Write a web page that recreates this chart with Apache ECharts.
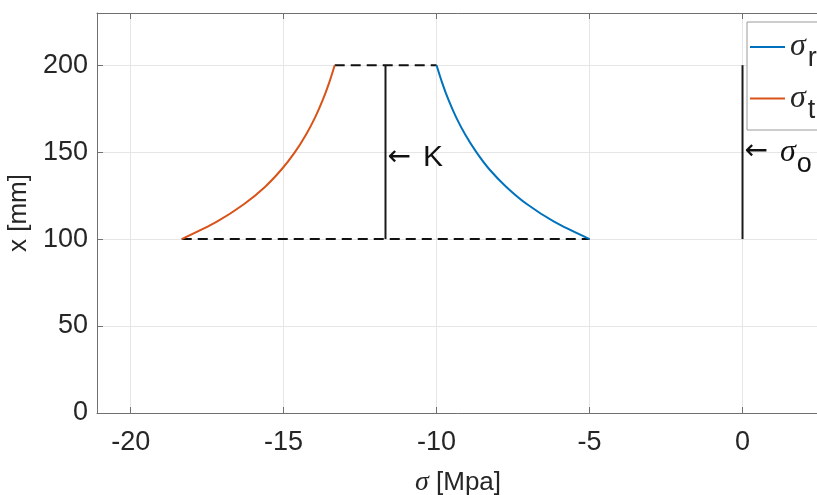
<!DOCTYPE html>
<html>
<head>
<meta charset="utf-8">
<script src="https://cdn.jsdelivr.net/npm/echarts@6/dist/echarts.min.js"></script>
<style>
  html, body { margin: 0; padding: 0; background: #fff; }
  #chart { width: 817px; height: 495px; }
</style>
</head>
<body>
<div id="chart"></div>
<script>
  // radius positions (mm) and stresses (MPa)
  const radius = [100, 110, 120, 130, 140, 150, 160, 170, 180, 190, 200];
  const sigmaR = [-5.0, -6.16, -7.04, -7.72, -8.27, -8.7, -9.06, -9.36, -9.61, -9.82, -10.0];
  const sigmaT = [-18.33, -17.18, -16.3, -15.61, -15.07, -14.63, -14.27, -13.97, -13.72, -13.51, -13.33];
  const kValue = -11.67;
  const sigmaO = 0;
  const rInner = 100;
  const rOuter = 200;
  const kLabelY = 147;
  const oLabelY = 150;
  const xTicks = [-20, -15, -10, -5, 0];

  const fontSans = 'Liberation Sans, Arial, sans-serif';
  const fontSigma = 'Liberation Serif, serif';
  const txt = '#262626';
  const axisCol = '#707070';
  const gridCol = '#e6e6e6';

  const pairs = (xs, ys) => xs.map((v, i) => [v, ys[i]]);

  const chart = echarts.init(document.getElementById('chart'));

  const option = {
    animation: false,
    grid: { left: 97, top: 13, right: -2, bottom: 82, outerBoundsMode: 'none', containLabel: false },
    legend: {
      orient: 'vertical',
      left: 747,
      top: 22,
      itemWidth: 35,
      itemHeight: 2,
      itemGap: 10,
      padding: [9, 10, 6, 3],
      borderColor: '#9a9a9a',
      borderWidth: 1,
      backgroundColor: '#fff',
      data: [{ name: 'r', icon: 'rect' }, { name: 't', icon: 'rect' }],
      formatter: (n) => '{s|σ}{sub|' + n + '}',
      textStyle: {
        rich: {
          s: { fontFamily: fontSigma, fontStyle: 'italic', fontSize: 32, color: txt, lineHeight: 40 },
          sub: { fontFamily: fontSans, fontSize: 27, color: txt, padding: [24, 0, 0, 2] }
        }
      }
    },
    xAxis: [
      {
        type: 'value',
        min: -21.1,
        max: 2.5,
        name: '{s|σ} [Mpa]',
        nameLocation: 'middle',
        nameGap: 56,
        nameTextStyle: {
          fontFamily: fontSans, fontSize: 26, color: txt,
          rich: { s: { fontFamily: fontSigma, fontStyle: 'italic', fontSize: 28, color: txt } }
        },
        axisLine: { show: true, onZero: false, lineStyle: { color: axisCol, width: 1 } },
        axisTick: { show: true, inside: true, length: 6, customValues: xTicks, lineStyle: { color: axisCol } },
        axisLabel: { customValues: xTicks, fontFamily: fontSans, fontSize: 27, color: txt, margin: 16 },
        splitLine: { show: true, customValues: xTicks, lineStyle: { color: gridCol } }
      },
      {
        type: 'value',
        position: 'top',
        min: -21.1,
        max: 2.5,
        axisLine: { show: true, onZero: false, lineStyle: { color: axisCol, width: 1 } },
        axisTick: { show: true, inside: true, length: 6, customValues: xTicks, lineStyle: { color: axisCol } },
        axisLabel: { show: false },
        splitLine: { show: false }
      }
    ],
    yAxis: {
      type: 'value',
      min: 0,
      max: 230,
      interval: 50,
      name: 'x [mm]',
      nameLocation: 'middle',
      nameGap: 56,
      nameTextStyle: { fontFamily: fontSans, fontSize: 26, color: txt },
      axisLine: { show: true, onZero: false, lineStyle: { color: axisCol, width: 1 } },
      axisTick: { show: true, inside: true, length: 6, lineStyle: { color: axisCol } },
      axisLabel: { fontFamily: fontSans, fontSize: 27, color: txt, margin: 9, showMaxLabel: false },
      splitLine: { show: true, lineStyle: { color: gridCol } }
    },
    series: [
      {
        name: 'r',
        type: 'line',
        data: pairs(sigmaR, radius),
        smooth: 0.3,
        symbol: 'none',
        lineStyle: { color: '#0072BD', width: 2 },
        itemStyle: { color: '#0072BD' },
        z: 5
      },
      {
        name: 't',
        type: 'line',
        data: pairs(sigmaT, radius),
        smooth: 0.3,
        symbol: 'none',
        lineStyle: { color: '#D95319', width: 2 },
        itemStyle: { color: '#D95319' },
        z: 5
      },
      {
        name: 'top dash',
        type: 'line',
        data: [[sigmaT[sigmaT.length - 1], rOuter], [sigmaR[sigmaR.length - 1], rOuter]],
        symbol: 'none',
        lineStyle: { color: '#111', width: 2, type: [10, 6] },
        z: 4
      },
      {
        name: 'bottom dash',
        type: 'line',
        data: [[sigmaT[0], rInner], [sigmaR[0], rInner]],
        symbol: 'none',
        lineStyle: { color: '#111', width: 2, type: [10, 6] },
        z: 4
      },
      {
        name: 'K',
        type: 'line',
        data: [[kValue, rInner], [kValue, rOuter]],
        symbol: 'none',
        lineStyle: { color: '#1a1a1a', width: 2 },
        z: 4
      },
      {
        name: 'o',
        type: 'line',
        data: [[sigmaO, rInner], [sigmaO, rOuter]],
        symbol: 'none',
        lineStyle: { color: '#1a1a1a', width: 2 },
        z: 4
      },
      {
        name: 'labels',
        type: 'scatter',
        symbolSize: 0,
        itemStyle: { opacity: 1, color: 'rgba(0,0,0,0)' },
        data: [
          { value: [kValue, kLabelY], label: { formatter: '{a|←}{t|K}' } },
          { value: [sigmaO, oLabelY], label: { formatter: '{a|←}{s|σ}{sub|o}' } }
        ],
        label: {
          show: true,
          position: 'right',
          distance: 2,
          color: txt,
          opacity: 1,
          rich: {
            a: { fontFamily: 'DejaVu Sans', fontSize: 28, color: '#111' },
            t: { fontFamily: fontSans, fontSize: 30, color: '#111', padding: [0, 0, 0, 12] },
            s: { fontFamily: fontSigma, fontStyle: 'italic', fontSize: 32, color: '#111', padding: [0, 0, 0, 12] },
            sub: { fontFamily: fontSans, fontSize: 27, color: '#111', padding: [24, 0, 0, 1] }
          }
        },
        z: 6
      }
    ]
  };

  chart.setOption(option);
</script>
</body>
</html>
